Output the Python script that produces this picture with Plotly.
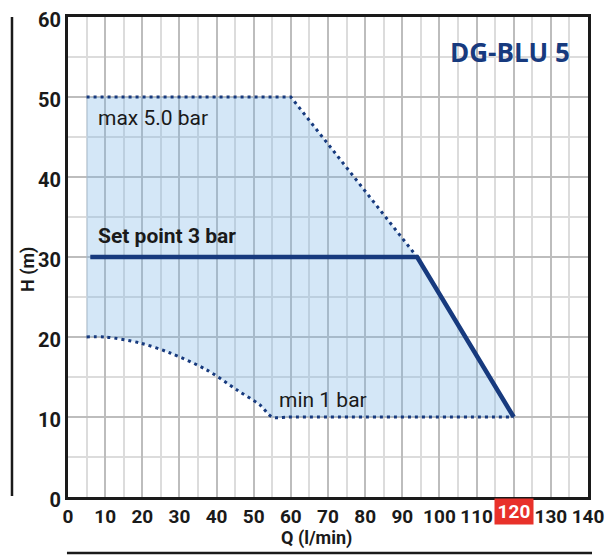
import plotly.graph_objects as go

# ---- data ----
x_ticks = [0, 10, 20, 30, 40, 50, 60, 70, 80, 90, 100, 110, 120, 130, 140]
y_ticks = [0, 10, 20, 30, 40, 50, 60]

max_q = [5, 60, 94]
max_h = [50, 50, 30]

set_q = [6, 94, 120]
set_h = [30, 30, 10]

min_q = [5, 10, 19.4, 27.5, 37.3, 45.4, 51.7, 55, 60, 120]
min_h = [20, 20, 19.25, 18, 15.9, 13.4, 11.5, 10, 10, 10]

upper_q = [5, 60, 94, 120]
upper_h = [50, 50, 30, 10]

highlight_q = 120
title_text = "DG-BLU 5"

NAVY = "#173a7e"
INK = "#1a1a1a"
FONT = "Roboto, sans-serif"

fig = go.Figure()

# lower boundary (min 1 bar), dotted
fig.add_trace(go.Scatter(x=min_q, y=min_h, mode="lines",
                         line=dict(color=NAVY, width=3, dash="3px,4px", shape="spline", smoothing=0.9),
                         hoverinfo="skip", showlegend=False))
# fill region up to upper boundary
fig.add_trace(go.Scatter(x=upper_q, y=upper_h, mode="lines", fill="tonexty",
                         fillcolor="rgba(120,179,229,0.32)",
                         line=dict(width=0, color="rgba(0,0,0,0)"),
                         hoverinfo="skip", showlegend=False))
# max 5.0 bar dotted
fig.add_trace(go.Scatter(x=max_q, y=max_h, mode="lines",
                         line=dict(color=NAVY, width=3, dash="3px,4px"),
                         hoverinfo="skip", showlegend=False))
# set point
fig.add_trace(go.Scatter(x=set_q, y=set_h, mode="lines",
                         line=dict(color=NAVY, width=4.5),
                         hoverinfo="skip", showlegend=False))

xt_text = ["" if v == highlight_q else str(v) for v in x_ticks]

fig.update_xaxes(range=[0, 140], tickvals=x_ticks, ticktext=xt_text, tickangle=0,
                 automargin=False,
                 showgrid=True, gridcolor="#bdbdbd", gridwidth=2,
                 minor=dict(dtick=5, tick0=0, showgrid=True, gridcolor="#dcdcdc", gridwidth=1.5),
                 showline=True, linecolor=INK, linewidth=3, mirror=True,
                 ticks="", zeroline=False,
                 tickfont=dict(family=FONT, size=19, color=INK, weight="bold"))
fig.update_yaxes(range=[0, 60], tickvals=y_ticks, tickangle=0,
                 automargin=False, ticklabelshift=3,
                 showgrid=True, gridcolor="#bdbdbd", gridwidth=2,
                 minor=dict(dtick=5, tick0=0, showgrid=True, gridcolor="#dcdcdc", gridwidth=1.5),
                 showline=True, linecolor=INK, linewidth=3, mirror=True,
                 ticks="", zeroline=False,
                 tickfont=dict(family=FONT, size=20, color=INK, weight="bold"))

# axis titles
fig.add_annotation(x=0.477, y=-0.0854, xref="paper", yref="paper", text="<b>Q (l/min)</b>",
                   xanchor="center", yanchor="middle",
                   showarrow=False, font=dict(family=FONT, size=18, color=INK))
fig.add_annotation(x=-0.0769, y=0.473, xref="paper", yref="paper", text="<b>H (m)</b>",
                   xanchor="center", yanchor="middle",
                   showarrow=False, textangle=-90, font=dict(family=FONT, size=18, color=INK))

# highlighted tick
fig.add_annotation(x=highlight_q, y=0, xref="x", yref="y", yshift=-14, yanchor="middle",
                   text="<b>%d</b>" % highlight_q, showarrow=False,
                   bgcolor="#e8312a", font=dict(family=FONT, size=19, color="white"),
                   width=36, height=23, borderpad=1)

fig.add_annotation(x=135.7, y=55.6, xref="x", yref="y", text="<b>" + title_text + "</b>",
                   showarrow=False, xanchor="right",
                   font=dict(family="Open Sans, sans-serif", size=26, color=NAVY))
fig.add_annotation(x=7.6, y=47.4, text="max 5.0 bar", showarrow=False, xanchor="left",
                   font=dict(family=FONT, size=21, color=INK))
fig.add_annotation(x=7.6, y=32.6, text="<b>Set point 3 bar</b>", showarrow=False, xanchor="left",
                   font=dict(family=FONT, size=21, color=INK))
fig.add_annotation(x=56.2, y=12.1, text="min 1 bar", showarrow=False, xanchor="left",
                   font=dict(family=FONT, size=21, color=INK))

# decorative lines
fig.add_shape(type="line", xref="paper", yref="paper", x0=-0.1077, x1=-0.1077, y0=0.002, y1=1.0,
              line=dict(color=INK, width=2.5))
fig.add_shape(type="line", xref="paper", yref="paper", x0=-0.002, x1=1.0077, y0=-0.1167, y1=-0.1167,
              line=dict(color=INK, width=2.5))

fig.update_layout(width=606, height=548,
                  margin=dict(l=60, r=26, t=9, b=59),
                  plot_bgcolor="white", paper_bgcolor="white",
                  showlegend=False)

fig.write_html("out.html")
